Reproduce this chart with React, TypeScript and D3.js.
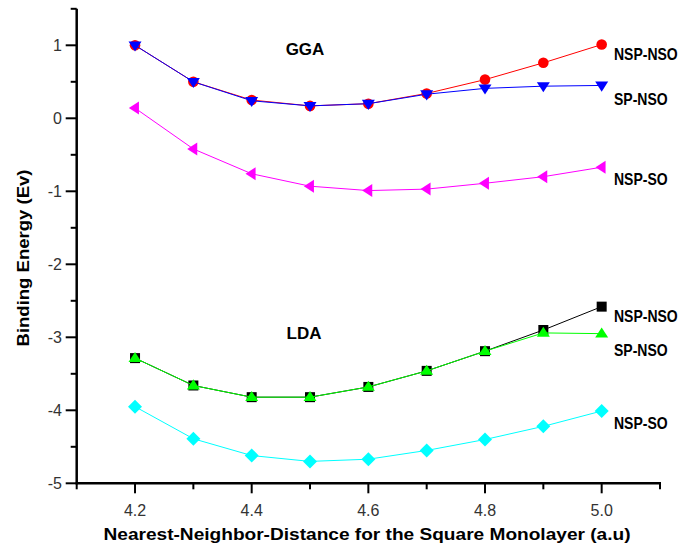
import React from "react";
import * as d3 from "d3";

const distances = [4.2, 4.3, 4.4, 4.5, 4.6, 4.7, 4.8, 4.9, 5.0];
const ggaNspNso = [1.0, 0.5, 0.25, 0.17, 0.2, 0.34, 0.53, 0.76, 1.01];
const ggaSpNso = [1.0, 0.5, 0.24, 0.17, 0.2, 0.33, 0.41, 0.44, 0.45];
const ggaNspSo = [0.14, -0.42, -0.76, -0.93, -0.99, -0.97, -0.89, -0.8, -0.67];
const ldaNspNso = [-3.285, -3.66, -3.82, -3.82, -3.68, -3.46, -3.19, -2.9, -2.58];
const ldaSpNso = [-3.285, -3.66, -3.82, -3.82, -3.68, -3.46, -3.19, -2.94, -2.95];
const ldaNspSo = [-3.95, -4.39, -4.62, -4.7, -4.67, -4.55, -4.4, -4.22, -4.01];

const xMajorTicks = [4.2, 4.4, 4.6, 4.8, 5.0];
const xMinorTicks = [4.1, 4.3, 4.5, 4.7, 4.9, 5.1];
const yMajorTicks = [1, 0, -1, -2, -3, -4, -5];
const yMinorTicks = [1.5, 0.5, -0.5, -1.5, -2.5, -3.5, -4.5];

const seriesLabels = [
  { text: "NSP-NSO", y: 60 },
  { text: "SP-NSO", y: 105 },
  { text: "NSP-SO", y: 185 },
  { text: "NSP-NSO", y: 322 },
  { text: "SP-NSO", y: 356 },
  { text: "NSP-SO", y: 429 },
];

type Shape = "circle" | "down" | "left" | "square" | "up" | "diamond";

const series: { values: number[]; color: string; shape: Shape }[] = [
  { values: ggaNspNso, color: "#ff0000", shape: "circle" },
  { values: ggaSpNso, color: "#0000ff", shape: "down" },
  { values: ggaNspSo, color: "#ff00ff", shape: "left" },
  { values: ldaNspNso, color: "#000000", shape: "square" },
  { values: ldaSpNso, color: "#00ff00", shape: "up" },
  { values: ldaNspSo, color: "#00ffff", shape: "diamond" },
];

const x = d3.scaleLinear().domain([4.1, 5.1]).range([76.7, 660]);
const y = d3.scaleLinear().domain([-5, 1.5]).range([483.3, 8.8]);

function marker(shape: Shape, cx: number, cy: number, color: string, key: string) {
  const s = 6.5;
  switch (shape) {
    case "circle":
      return <circle key={key} cx={cx} cy={cy} r={5.3} fill={color} />;
    case "square":
      return <rect key={key} x={cx - 5} y={cy - 5} width={10} height={10} fill={color} />;
    case "down":
      return (
        <polygon key={key} fill={color}
          points={`${cx - s},${cy - s * 0.6} ${cx + s},${cy - s * 0.6} ${cx},${cy + s * 0.95}`} />
      );
    case "up":
      return (
        <polygon key={key} fill={color}
          points={`${cx - s},${cy + s * 0.6} ${cx + s},${cy + s * 0.6} ${cx},${cy - s * 0.95}`} />
      );
    case "left":
      return (
        <polygon key={key} fill={color}
          points={`${cx + s * 0.6},${cy - s} ${cx + s * 0.6},${cy + s} ${cx - s * 0.95},${cy}`} />
      );
    case "diamond":
      return (
        <polygon key={key} fill={color}
          points={`${cx},${cy - 7} ${cx + 7},${cy} ${cx},${cy + 7} ${cx - 7},${cy}`} />
      );
  }
}

export default function App() {
  const line = d3
    .line<number>()
    .x((_, i) => x(distances[i]))
    .y((v) => y(v));
  const font = "Arial, 'Liberation Sans', Helvetica, sans-serif";
  const x0 = x(4.1);
  const y0 = y(-5);
  return (
    <svg width={693} height={556} style={{ position: "absolute", left: 0, top: 0, background: "#fff" }}
      fontFamily={font}>
      <rect width={693} height={556} fill="#fff" />
      {/* series */}
      {series.map((s, si) => (
        <g key={si}>
          <path d={line(s.values) || ""} fill="none" stroke={s.color} strokeWidth={1} />
          {s.values.map((v, i) => marker(s.shape, x(distances[i]), y(v), s.color, `${si}-${i}`))}
        </g>
      ))}
      {/* axes */}
      <line x1={x0} x2={x0} y1={y(1.5)} y2={y0 + 1} stroke="#000" strokeWidth={2.5} />
      <line x1={x0 - 1} x2={x(5.1) + 1} y1={y0} y2={y0} stroke="#000" strokeWidth={2.5} />
      {yMajorTicks.map((t) => (
        <g key={`ym${t}`}>
          <line x1={x0 - 11} x2={x0} y1={y(t)} y2={y(t)} stroke="#000" strokeWidth={2} />
          <text x={62} y={y(t)} dy="0.36em" textAnchor="end" fontSize={16} fill="#333">
            {t}
          </text>
        </g>
      ))}
      {yMinorTicks.map((t) => (
        <line key={`yn${t}`} x1={x0 - 6} x2={x0} y1={y(t)} y2={y(t)} stroke="#000" strokeWidth={2} />
      ))}
      {xMajorTicks.map((t) => (
        <g key={`xm${t}`}>
          <line x1={x(t)} x2={x(t)} y1={y0} y2={y0 + 10} stroke="#000" strokeWidth={2} />
          <text x={x(t)} y={516} textAnchor="middle" fontSize={16} fill="#333">
            {t.toFixed(1)}
          </text>
        </g>
      ))}
      {xMinorTicks.map((t) => (
        <line key={`xn${t}`} x1={x(t)} x2={x(t)} y1={y0} y2={y0 + 6} stroke="#000" strokeWidth={2} />
      ))}
      {/* annotations */}
      <text x={305} y={55} textAnchor="middle" fontSize={17} fontWeight="bold" fill="#000">GGA</text>
      <text x={304} y={339} textAnchor="middle" fontSize={17} fontWeight="bold" fill="#000">LDA</text>
      {seriesLabels.map((l, i) => (
        <text key={i} x={614} y={l.y} fontSize={14} fontWeight="bold" fill="#000"
          transform={`translate(0, ${l.y}) scale(1, 1.15) translate(0, ${-l.y})`}>
          {l.text}
        </text>
      ))}
      <text x={367} y={540} textAnchor="middle" fontSize={16} fontWeight="bold" fill="#000"
        textLength={527} lengthAdjust="spacingAndGlyphs">
        Nearest-Neighbor-Distance for the Square Monolayer (a.u)
      </text>
      <text transform="translate(29, 258) rotate(-90)" textAnchor="middle" fontSize={16}
        fontWeight="bold" fill="#000" textLength={177} lengthAdjust="spacingAndGlyphs">
        Binding Energy (Ev)
      </text>
    </svg>
  );
}
